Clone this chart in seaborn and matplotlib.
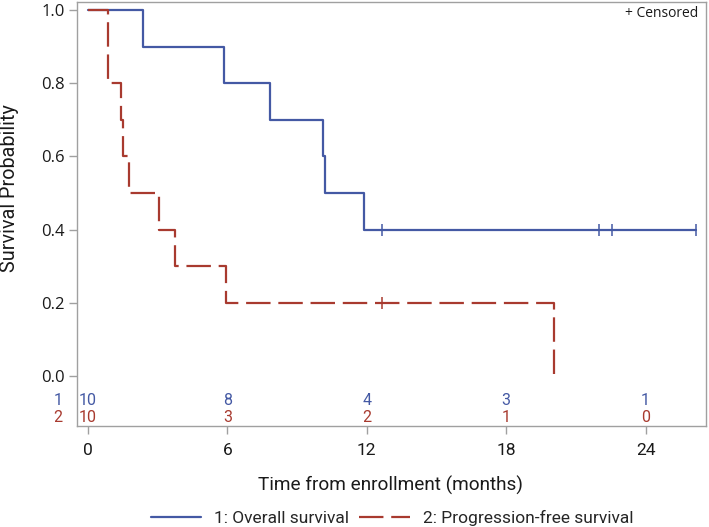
import matplotlib
matplotlib.use("Agg")
import matplotlib.pyplot as plt
import seaborn as sns
import pandas as pd
from matplotlib.lines import Line2D

# ---- data ----
os_time = [0, 2.35, 5.85, 7.85, 10.1, 10.2, 11.9, 26.15]
os_surv = [1.0, 0.9, 0.8, 0.7, 0.6, 0.5, 0.4, 0.4]
os_censor_time = [12.67, 21.98, 22.55, 26.15]
os_censor_surv = [0.4, 0.4, 0.4, 0.4]

pfs_time = [0, 0.85, 1.42, 1.52, 1.78, 3.04, 3.74, 5.96, 20.04]
pfs_surv = [1.0, 0.8, 0.7, 0.6, 0.5, 0.4, 0.3, 0.2, 0.0]
pfs_censor_time = [12.67]
pfs_censor_surv = [0.2]

risk_times = [0, 6, 12, 18, 24]
os_at_risk = [10, 8, 4, 3, 1]
pfs_at_risk = [10, 3, 2, 1, 0]

labels = ["1: Overall survival", "2: Progression-free survival"]
y_ticks = [0.0, 0.2, 0.4, 0.6, 0.8, 1.0]

BLUE = "#4459a4"
RED = "#a83a2f"
GRAY = "#a0a0a0"
DASH = (0, (11, 3.5))

sns.set_theme(style="white")
plt.rcParams["font.family"] = ["Open Sans", "DejaVu Sans"]
NARROW = ["Roboto", "DejaVu Sans"]

W, H = 709, 527
fig = plt.figure(figsize=(W / 100, H / 100), dpi=100)
ax = fig.add_axes([77 / W, 1 - 426 / H, (706 - 77) / W, (426 - 2) / H])

df_os = pd.DataFrame({"t": os_time, "s": os_surv})
df_pfs = pd.DataFrame({"t": pfs_time, "s": pfs_surv})

sns.lineplot(data=df_os, x="t", y="s", ax=ax, color=BLUE, lw=1.6,
             drawstyle="steps-post", estimator=None, sort=False)
sns.lineplot(data=df_pfs, x="t", y="s", ax=ax, color=RED, lw=1.6,
             drawstyle="steps-post", estimator=None, sort=False,
             linestyle=DASH)

sns.scatterplot(x=os_censor_time, y=os_censor_surv, ax=ax, marker="|",
                color=BLUE, s=70, linewidth=1.1, zorder=5)
sns.scatterplot(x=pfs_censor_time, y=pfs_censor_surv, ax=ax, marker="|",
                color=RED, s=70, linewidth=1.1, zorder=5)

ax.set_xlim(-0.47, 26.6)
ax.set_ylim(-0.137, 1.022)
ax.set_xticks(risk_times)
ax.set_yticks(y_ticks)
ax.set_yticklabels([f"{v:.1f}" for v in y_ticks], fontsize=12)
ax.set_xticklabels([str(v) for v in risk_times], fontsize=12.5, family=NARROW)

for sp in ax.spines.values():
    sp.set_color(GRAY)
    sp.set_linewidth(1.0)
ax.tick_params(axis="both", which="both", direction="out", length=6,
               width=1.0, color=GRAY, labelcolor="#1a1a1a", bottom=True, left=True)
ax.tick_params(axis="x", pad=6)
ax.tick_params(axis="y", pad=3)

ax.set_xlabel("")
ax.set_ylabel("")
fig.text(391 / W, 1 - 485 / H, "Time from enrollment (months)", fontsize=13.7,
         family=NARROW, ha="center", va="center", color="#1a1a1a")
fig.text(10 / W, 1 - 188 / H, "Survival Probability", fontsize=14.2,
         family=NARROW, ha="center", va="center", rotation=90, color="#1a1a1a")

# at-risk table
for t, n in zip(risk_times, os_at_risk):
    ax.text(t, -0.066, str(n), color=BLUE, fontsize=11.5, family=NARROW,
            ha="center", va="center")
for t, n in zip(risk_times, pfs_at_risk):
    ax.text(t, -0.115, str(n), color=RED, fontsize=11.5, family=NARROW,
            ha="center", va="center")
ax.text(-0.023, -0.066, "1", color=BLUE, fontsize=11.5, family=NARROW,
        ha="right", va="center", transform=ax.get_yaxis_transform())
ax.text(-0.023, -0.115, "2", color=RED, fontsize=11.5, family=NARROW,
        ha="right", va="center", transform=ax.get_yaxis_transform())

ax.text(0.987, 0.972, "+ Censored", transform=ax.transAxes, ha="right",
        va="center", fontsize=10, color="#1a1a1a")

handles = [Line2D([], [], color=BLUE, lw=1.6),
           Line2D([], [], color=RED, lw=1.6, linestyle=DASH)]
fig.legend(handles, labels, loc="center", bbox_to_anchor=(392 / W, 1 - 518 / H),
           ncol=2, frameon=False, handlelength=2.9,
           columnspacing=0.6, handletextpad=0.75,
           prop={"family": NARROW, "size": 12.5})

fig.savefig("out.png", dpi=100)
